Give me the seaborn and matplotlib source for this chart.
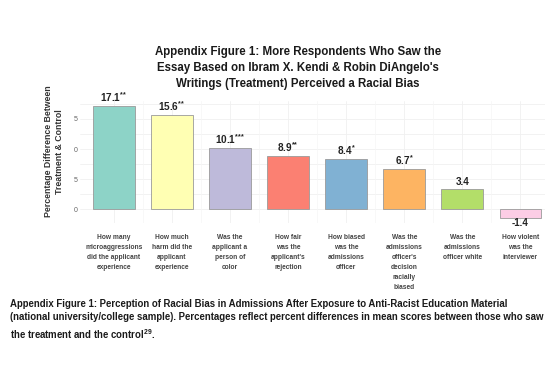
import matplotlib
matplotlib.use("Agg")
import matplotlib.pyplot as plt
import seaborn as sns
import pandas as pd

categories = [
    "How many\nmicroaggressions\ndid the applicant\nexperience",
    "How much\nharm did the\napplicant\nexperience",
    "Was the\napplicant a\nperson of\ncolor",
    "How fair\nwas the\napplicant's\nrejection",
    "How biased\nwas the\nadmissions\nofficer",
    "Was the\nadmissions\nofficer's\ndecision\nracially\nbiased",
    "Was the\nadmissions\nofficer white",
    "How violent\nwas the\ninterviewer",
]
values = [17.1, 15.6, 10.1, 8.9, 8.4, 6.7, 3.4, -1.4]
stars = ["**", "**", "***", "**", "*", "*", "", ""]
ytick_values = [0, 5, 10, 15]
ytick_labels = ["0", "5", "0", "5"]

sns.set_theme(style="white")
plt.rcParams["font.family"] = ["Liberation Sans", "DejaVu Sans"]
plt.rcParams["mathtext.fontset"] = "custom"
plt.rcParams["mathtext.rm"] = "Liberation Sans"
plt.rcParams["mathtext.bf"] = "Liberation Sans:bold"

df = pd.DataFrame({"cat": categories, "val": values})
palette = sns.color_palette("Set3", 8)

fig = plt.figure(figsize=(5.6, 3.67), dpi=100)
ax = fig.add_axes([0.143, 0.392, 0.830, 0.333])

# faint grid
for y in [-2.5, 0, 2.5, 5, 7.5, 10, 12.5, 15, 17.5]:
    ax.axhline(y, color="#f0f0f0", lw=0.6, zorder=0)
for i in range(len(categories)):
    ax.axvline(i, color="#f0f0f0", lw=0.6, zorder=0)
    ax.axvline(i + 0.5, color="#f5f5f5", lw=0.5, zorder=0)

sns.barplot(data=df, x="cat", y="val", hue="cat", palette=palette, legend=False,
            saturation=1, width=0.72, edgecolor="#9a9a9a", linewidth=0.6,
            ax=ax, zorder=2)

for i, (v, s) in enumerate(zip(values, stars)):
    if v >= 0:
        if s:
            sup = "".join("{*}" for _ in s)
            txt = r"$\mathbf{%s}^{\mathbf{%s}}$" % (f"{v:.1f}", sup)
        else:
            txt = f"{v:.1f}"
        ax.annotate(txt, (i, v), xytext=(0, 1.5), textcoords="offset points",
                    ha="center", va="bottom", fontsize=7.2, fontweight="bold",
                    color="#222222")
    else:
        ax.annotate(f"{v:.1f}", (i, v), xytext=(0, -0.3), textcoords="offset points",
                    ha="center", va="top", fontsize=7.0, fontweight="bold",
                    color="#222222")

ax.set_xlim(-0.58, 7.42)
ax.set_ylim(-2.3, 18.0)
ax.set_yticks(ytick_values)
ax.set_yticklabels(ytick_labels, fontsize=5, color="#666666")
ax.set_xticks(range(len(categories)))
ax.set_xticklabels(categories, fontsize=4.8, color="#444444", fontweight="bold",
                   linespacing=1.6, va="top")
ax.tick_params(axis="x", length=0, pad=8)
ax.tick_params(axis="y", length=0, pad=2)
ax.set_xlabel("")
ax.set_ylabel("")
for sp in ax.spines.values():
    sp.set_visible(False)

fig.text(0.086, 0.588, "Percentage Difference Between", rotation=90,
         ha="center", va="center", fontsize=6.3, fontweight="bold", color="#333333")
fig.text(0.107, 0.588, "Treatment & Control", rotation=90,
         ha="center", va="center", fontsize=6.3, fontweight="bold", color="#333333")

fig.text(0.532, 0.815,
         "Appendix Figure 1: More Respondents Who Saw the\n"
         "Essay Based on Ibram X. Kendi & Robin DiAngelo's\n"
         "Writings (Treatment) Perceived a Racial Bias",
         ha="center", va="center", fontsize=8.3, fontweight="bold",
         color="#1a1a1a", linespacing=1.45)

fig.text(0.018, 0.185,
         "Appendix Figure 1: Perception of Racial Bias in Admissions After Exposure to Anti-Racist Education Material\n"
         "(national university/college sample). Percentages reflect percent differences in mean scores between those who saw\n"
         r"the treatment and the control$^{\mathbf{29}}$.",
         ha="left", va="top", fontsize=6.95, fontweight="bold",
         color="#1a1a1a", linespacing=1.4)

fig.savefig("out.png", dpi=100, facecolor="white")
